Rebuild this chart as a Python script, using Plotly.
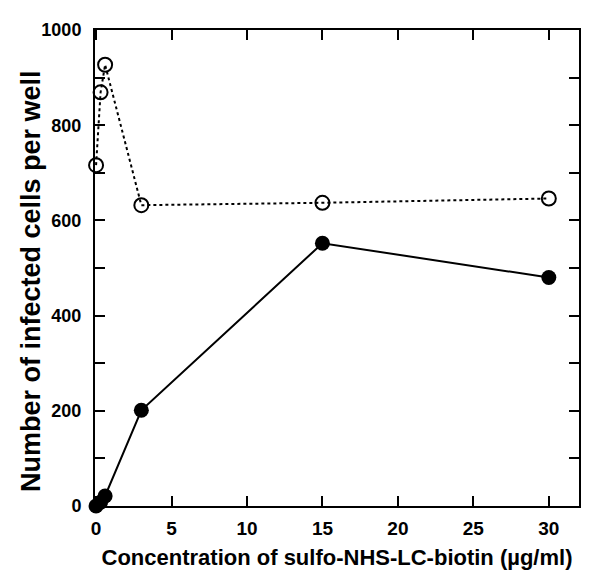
import plotly.graph_objects as go

conc = [0, 0.3, 0.6, 3, 15, 30]
open_vals = [716, 869, 927, 632, 637, 646]
filled_vals = [0, 8, 21, 201, 552, 480]
x_ticks = [0, 5, 10, 15, 20, 25, 30]
y_ticks = [0, 200, 400, 600, 800, 1000]

fig = go.Figure()
fig.add_trace(go.Scatter(
    x=conc, y=open_vals, mode="lines+markers",
    line=dict(color="black", width=2, dash="dot"),
    marker=dict(symbol="circle-open", size=14, color="black", line=dict(width=2)),
    showlegend=False, cliponaxis=False))
fig.add_trace(go.Scatter(
    x=conc, y=filled_vals, mode="lines+markers",
    line=dict(color="black", width=2),
    marker=dict(symbol="circle", size=15, color="black"),
    showlegend=False, cliponaxis=False))

font_family = "Liberation Sans, Arial, sans-serif"
fig.update_layout(
    width=600, height=584,
    margin=dict(l=87, r=29, t=22, b=86),
    plot_bgcolor="white", paper_bgcolor="white",
    font=dict(family=font_family, color="black"),
)
fig.update_xaxes(
    range=[-0.07, 32], tickvals=x_ticks, ticktext=["<b>%d</b>" % v for v in x_ticks],
    ticks="inside", ticklen=10, tickwidth=2, tickcolor="black",
    showline=True, linewidth=2, linecolor="black", mirror="ticks",
    showgrid=False, zeroline=False, ticklabelstandoff=4,
    tickfont=dict(size=19, family=font_family),
    title=dict(text="<b>Concentration of sulfo-NHS-LC-biotin (µg/ml)</b>",
               font=dict(size=22, family=font_family), standoff=12),
)
fig.update_yaxes(
    range=[0, 1000], tickvals=y_ticks, ticktext=["<b>%d</b>" % v for v in y_ticks],
    ticks="inside", ticklen=10, tickwidth=2, tickcolor="black",
    minor=dict(dtick=100, ticks="inside", ticklen=10, tickwidth=2, tickcolor="black", showgrid=False),
    showline=True, linewidth=2, linecolor="black", mirror="ticks",
    showgrid=False, zeroline=False, ticklabelstandoff=8,
    tickfont=dict(size=18, family=font_family),
)
fig.add_annotation(
    text="<b>Number of infected cells per well</b>",
    xref="paper", yref="paper", x=0, y=0.5, xanchor="center", yanchor="middle",
    xshift=-64, yshift=-13, textangle=-90, showarrow=False,
    font=dict(size=27, family=font_family, color="black"),
)
fig.write_html("out.html")
